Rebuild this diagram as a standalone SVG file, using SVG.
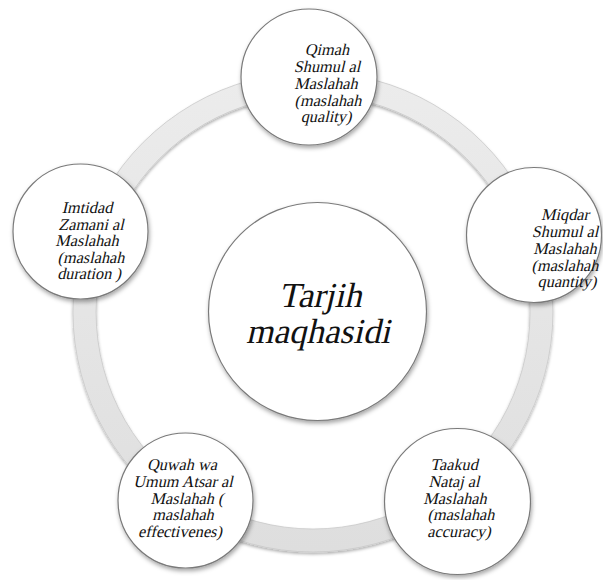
<svg xmlns="http://www.w3.org/2000/svg" width="603" height="580" viewBox="0 0 603 580">
<style>
.node{fill:#ffffff;stroke:#7a7a7a;stroke-width:1.2;filter:url(#sh)}
.t{font-family:'Liberation Serif';font-size:16.3px;fill:#111;text-anchor:middle}
.big{font-family:'Liberation Serif';font-size:35px;fill:#111;text-anchor:middle}
</style>
<defs>
<filter id="sh" x="-20%" y="-20%" width="140%" height="140%">
<feDropShadow dx="1" dy="2.5" stdDeviation="2" flood-color="#000" flood-opacity="0.35"/>
</filter>
<filter id="rsh" x="-10%" y="-10%" width="120%" height="120%">
<feDropShadow dx="0" dy="2" stdDeviation="1.8" flood-color="#000" flood-opacity="0.3"/>
</filter>
<linearGradient id="rg" x1="0" y1="0" x2="0" y2="1">
<stop offset="0" stop-color="#ececec"/>
<stop offset="1" stop-color="#dedede"/>
</linearGradient>
</defs>
<rect width="603" height="580" fill="#ffffff"/>
<g id="connectors">
<path d="M313 72 A240 240 0 1 1 312.9 72 Z M313 95 A217 217 0 1 0 313.1 95 Z" fill="url(#rg)" fill-rule="evenodd" stroke="#c9c9c9" stroke-width="0.8" filter="url(#rsh)"/>
</g>
<g id="center">
<circle class="node" cx="317.5" cy="311.5" r="109"/>
<g transform="translate(320 307) skewX(-13)"><text class="big">Tarjih</text></g>
<g transform="translate(318 343) skewX(-13)"><text class="big">maqhasidi</text></g>
</g>
<g id="node-top">
<circle class="node" cx="309" cy="77" r="68"/>
<g transform="translate(327 55) skewX(-13)"><text class="t">Qimah</text></g>
<g transform="translate(327 72) skewX(-13)"><text class="t">Shumul al</text></g>
<g transform="translate(326 89) skewX(-13)"><text class="t">Maslahah</text></g>
<g transform="translate(328 106) skewX(-13)"><text class="t">(maslahah</text></g>
<g transform="translate(326 122) skewX(-13)"><text class="t">quality)</text></g>
</g>
<g id="node-right">
<circle class="node" cx="534" cy="235" r="67.5"/>
<g transform="translate(565 220) skewX(-13)"><text class="t">Miqdar</text></g>
<g transform="translate(565 237) skewX(-13)"><text class="t">Shumul al</text></g>
<g transform="translate(565 254) skewX(-13)"><text class="t">Maslahah</text></g>
<g transform="translate(565 271) skewX(-13)"><text class="t">(maslahah</text></g>
<g transform="translate(567 287) skewX(-13)"><text class="t">quantity)</text></g>
</g>
<g id="node-bottom-right">
<circle class="node" cx="457.5" cy="501.5" r="73"/>
<g transform="translate(454 470) skewX(-13)"><text class="t">Taakud</text></g>
<g transform="translate(454 487) skewX(-13)"><text class="t">Nataj al</text></g>
<g transform="translate(455 504) skewX(-13)"><text class="t">Maslahah</text></g>
<g transform="translate(461 520) skewX(-13)"><text class="t">(maslahah</text></g>
<g transform="translate(459 537) skewX(-13)"><text class="t">accuracy)</text></g>
</g>
<g id="node-bottom-left">
<circle class="node" cx="185.5" cy="500.5" r="67.5"/>
<g transform="translate(182 470) skewX(-13)"><text class="t">Quwah wa</text></g>
<g transform="translate(183 487) skewX(-13)"><text class="t">Umum Atsar al</text></g>
<g transform="translate(187 504) skewX(-13)"><text class="t">Maslahah (</text></g>
<g transform="translate(183 520) skewX(-13)"><text class="t">maslahah</text></g>
<g transform="translate(180 537) skewX(-13)"><text class="t">effectivenes)</text></g>
</g>
<g id="node-left">
<circle class="node" cx="80.5" cy="231.5" r="67.5"/>
<g transform="translate(87 213) skewX(-13)"><text class="t">Imtidad</text></g>
<g transform="translate(91 230) skewX(-13)"><text class="t">Zamani al</text></g>
<g transform="translate(87 246) skewX(-13)"><text class="t">Maslahah</text></g>
<g transform="translate(91 263) skewX(-13)"><text class="t">(maslahah</text></g>
<g transform="translate(89 279) skewX(-13)"><text class="t">duration )</text></g>
</g>
</svg>
